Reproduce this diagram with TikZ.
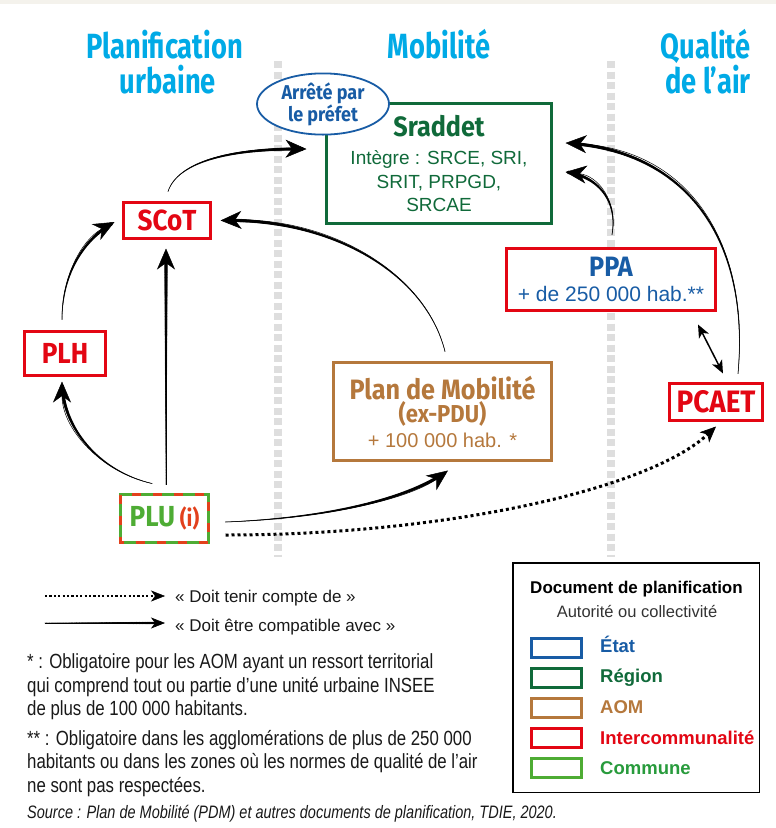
\documentclass[tikz,border=0pt]{standalone}
\usepackage{fontspec}
\setmainfont{Liberation Sans}
\newfontfamily\ttlfont{Fira Sans}[FakeStretch=0.78]
\newfontfamily\bxfont{Fira Sans}[FakeStretch=0.9]
\newfontfamily\notefont{Liberation Sans}[FakeStretch=0.82]
\newfontfamily\srcfont{Liberation Sans}[FakeStretch=0.805]
\usetikzlibrary{arrows.meta,decorations.markings,shapes.geometric}
\definecolor{cyanT}{RGB}{0,170,230}
\definecolor{regG}{RGB}{16,106,58}
\definecolor{etatB}{RGB}{24,92,165}
\definecolor{aomB}{RGB}{181,120,60}
\definecolor{interR}{RGB}{227,6,19}
\definecolor{comG}{RGB}{78,172,52}
\definecolor{comL}{RGB}{40,155,60}
\definecolor{plured}{RGB}{226,64,28}
\definecolor{sepG}{RGB}{222,222,222}
\definecolor{beige}{RGB}{244,242,236}
\definecolor{txtK}{RGB}{25,25,25}
\tikzset{
  tap/.style={postaction={decorate,decoration={markings,
      mark=between positions 0 and 0.97 step 0.6pt with {%
        \pgfmathsetmacro{\tapr}{0.3+#1*\pgfkeysvalueof{/pgf/decoration/mark info/sequence number}*0.6/\pgfdecoratedpathlength}%
        \fill (0,0) circle[radius=\tapr pt];}}}},
  tap/.default=1.5,
}
\begin{document}
\begin{tikzpicture}[x=1pt,y=-1pt,
  box/.style={draw, line width=3pt, fill=white, inner sep=0pt, outer sep=0pt, align=center},
  ttl/.style={text=cyanT, font=\ttlfont\bfseries\fontsize{35}{35}\selectfont, inner sep=0pt},
  sepline/.style={sepG, line width=8pt, dash pattern=on 7pt off 3.5pt},
  sarr/.style={line width=0.5pt, -{Stealth[length=21pt,width=18pt,inset=6.5pt]}, tap},
  darr/.style={line width=3pt, dash pattern=on 3pt off 3pt, -{Stealth[length=16pt,width=14pt,inset=4.5pt,line width=0.6pt]}},
  note/.style={anchor=base west, inner sep=0pt, text=txtK, font=\notefont\fontsize{20.5}{20.5}\selectfont},
  legtxt/.style={anchor=base west, inner sep=0pt, text=txtK, font=\fontsize{17}{17}\selectfont},
  sw/.style={draw, line width=3pt, minimum width=50pt, minimum height=19pt, inner sep=0pt},
  lab/.style={anchor=base west, inner sep=0pt, font=\bfseries\fontsize{18.5}{18.5}\selectfont},
]
\useasboundingbox (0,0) rectangle (776,828);
\fill[white] (0,0) rectangle (776,828);
\fill[beige] (0,0) rectangle (776,4);

% separators
\draw[sepline] (278,61) -- (278,557);
\draw[sepline] (611,61) -- (611,557);

% titles
\node[ttl, anchor=base] (t1) at (164.5,58) {Planification};
\node[ttl, anchor=base] (t2) at (168,93) {urbaine};
\node[ttl, anchor=base] (t3) at (439,58) {Mobilité};
\node[ttl, anchor=base] (t4) at (706,58) {Qualité};
\node[ttl, anchor=base] (t5) at (708,93) {de l’air};

% boxes
\node[box, draw=regG, text=regG, minimum width=225pt, minimum height=120pt,
  font=\fontsize{19}{23.5}\selectfont] (srad) at (439,163.5)
  {{\bxfont\bfseries\fontsize{28}{28}\selectfont Sraddet}\\[5pt]Intègre : SRCE, SRI,\\SRIT, PRPGD,\\SRCAE};
\node[ellipse, draw=etatB, line width=1.8pt, fill=white, minimum width=132pt, minimum height=52pt,
  inner sep=0pt, align=center, text=etatB, font=\bxfont\bfseries\fontsize{20}{19}\selectfont] (pref) at (323,104)
  {Arrêté par\\le préfet};
\node[box, draw=interR, text=interR, minimum width=87pt, minimum height=36pt,
  font=\bxfont\bfseries\fontsize{29}{29}\selectfont] (scot) at (167,220.5) {SCoT};
\node[box, draw=interR, text=interR, minimum width=81pt, minimum height=44pt,
  font=\bxfont\bfseries\fontsize{29}{29}\selectfont] (plh) at (65,353.5) {PLH};
\node[box, draw=comG, minimum width=88pt, minimum height=48pt,
  font=\bxfont\bfseries\fontsize{29}{29}\selectfont] (plu) at (164.5,518.5)
  {{\color{comG}PLU}\,{\color{plured}\fontsize{23}{23}\selectfont(i)}};
\draw[plured, line width=3pt, dash pattern=on 9pt off 12pt] (plu.north west) rectangle (plu.south east);
\node[box, draw=aomB, text=aomB, minimum width=218pt, minimum height=98pt,
  font=\fontsize{20}{23}\selectfont] (pdm) at (442.5,411.5)
  {{\bxfont\bfseries\fontsize{28}{28}\selectfont Plan de Mobilité}\\{\bxfont\bfseries\fontsize{24.5}{24.5}\selectfont(ex-PDU)}\\[2pt]+ 100~000 hab. *};
\node[box, draw=interR, text=etatB, minimum width=209pt, minimum height=62pt,
  font=\fontsize{21}{25}\selectfont] (ppa) at (611,279.5)
  {{\bxfont\bfseries\fontsize{28}{28}\selectfont PPA}\\+ de 250~000 hab.**};
\node[box, draw=interR, text=interR, minimum width=93pt, minimum height=37pt,
  font=\bxfont\bfseries\fontsize{31}{31}\selectfont] (pcaet) at (716,402) {PCAET};

% connectors
\draw[sarr] ([xshift=1pt,yshift=11pt]scot.north) .. controls +(10,-30) and +(-75,-1) .. ([xshift=-20pt,yshift=14.5pt]srad.west);
\draw[sarr] ([xshift=2.5pt,yshift=11pt]pdm.north) .. controls +(-20,-80) and +(108,-3) .. ([xshift=10pt]scot.east);
\draw[sarr] ([xshift=1.5pt,yshift=10pt]plu.north) -- ([xshift=-1pt,yshift=-10pt]scot.south);
\draw[sarr] ([xshift=-12.5pt,yshift=11pt]plu.north) .. controls +(-52,-12) and +(0,47) .. ([xshift=-3pt,yshift=-6pt]plh.south);
\draw[sarr] ([xshift=-3pt,yshift=12pt]plh.north) .. controls +(0,-43) and +(-33,18) .. ([xshift=-9pt,yshift=-1.5pt]scot.west);
\draw[sarr] ([xshift=17pt,yshift=-3.5pt]plu.east) .. controls +(103,-4) and +(-38,28) .. ([xshift=5.5pt,yshift=-10pt]pdm.south);
\draw[darr] ([xshift=17pt,yshift=-16.5pt]plu.east) .. controls +(223,0) and +(-66,62) .. ([yshift=-6pt]pcaet.south);
\draw[sarr] ([xshift=1pt,yshift=14pt]ppa.north) .. controls +(6,-33) and +(33,4) .. ([xshift=14pt,yshift=-8.5pt]srad.east);
\draw[sarr] ([xshift=22pt,yshift=10pt]pcaet.north) .. controls +(12,-132) and +(123,7) .. ([xshift=14pt,yshift=20.5pt]srad.east);
\draw[line width=1.5pt, {Stealth[length=13pt,width=11pt,inset=3.5pt]}-{Stealth[length=13pt,width=11pt,inset=3.5pt]}]
  ([xshift=87pt,yshift=-14pt]ppa.south) -- ([xshift=7pt,yshift=10pt]pcaet.north);

% legend arrows
\coordinate (lg1s) at (45,596);
\coordinate (lg1e) at (165,596);
\coordinate (lg2s) at (45,623);
\coordinate (lg2e) at (165,623);
\draw[line width=2.2pt, dash pattern=on 2.2pt off 2.2pt, -{Stealth[length=14pt,width=11pt,inset=4pt,line width=0.5pt]}] (lg1s) -- (lg1e);
\draw[line width=0.6pt, -{Stealth[length=14pt,width=11pt,inset=4pt]}, tap=1.0] (lg2s) -- (lg2e);
\node[legtxt] (lg1) at (175,602) {« Doit tenir compte de »};
\node[legtxt] (lg2) at (175,631) {« Doit être compatible avec »};

% notes
\node[note] (n1) at (27,668) {* : Obligatoire pour les AOM ayant un ressort territorial};
\node[note] (n2) at (27,692) {qui comprend tout ou partie d’une unité urbaine INSEE};
\node[note] (n3) at (27,715) {de plus de 100~000 habitants.};
\node[note] (n4) at (27,745) {** : Obligatoire dans les agglomérations de plus de 250~000};
\node[note] (n5) at (27,768) {habitants ou dans les zones où les normes de qualité de l’air};
\node[note] (n6) at (27,792) {ne sont pas respectées.};
\node[anchor=base west, inner sep=0pt, text=txtK, font=\srcfont\itshape\fontsize{18}{18}\selectfont] (src) at (27,818)
  {Source : Plan de Mobilité (PDM) et autres documents de planification, TDIE, 2020.};

% legend box
\node[draw=black, line width=1.5pt, minimum width=246.5pt, minimum height=229.5pt, inner sep=0pt] (leg) at (636,677.5) {};
\node[anchor=base, inner sep=0pt, font=\bfseries\fontsize{17}{17}\selectfont] (legt) at (636.5,593) {Document de planification};
\node[anchor=base, inner sep=0pt, text=black!80, font=\fontsize{16.5}{16.5}\selectfont] (legs) at (637,617) {Autorité ou collectivité};
\node[sw, draw=etatB] (s1) at (556.5,648) {};
\node[sw, draw=regG] (s2) at (556.5,677.5) {};
\node[sw, draw=aomB] (s3) at (556.5,707.5) {};
\node[sw, draw=interR] (s4) at (556.5,737.5) {};
\node[sw, draw=comG] (s5) at (556.5,768) {};
\node[lab, text=etatB] (l1) at (600,652) {État};
\node[lab, text=regG] (l2) at (600,682) {Région};
\node[lab, text=aomB] (l3) at (600,713) {AOM};
\node[lab, text=interR] (l4) at (600,744) {Intercommunalité};
\node[lab, text=comL] (l5) at (600,774) {Commune};
\end{tikzpicture}
\end{document}
